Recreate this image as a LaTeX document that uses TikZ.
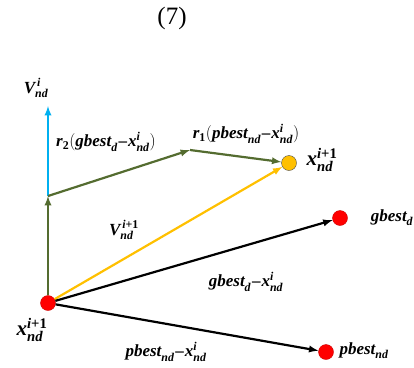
\documentclass[tikz,border=0pt]{standalone}
\usepackage{amsmath}
\usepackage{fontspec}
\setmainfont{Liberation Serif}
\usetikzlibrary{arrows}
\definecolor{vgreen}{RGB}{84,108,48}
\definecolor{vblue}{RGB}{0,176,240}
\definecolor{vyellow}{RGB}{255,192,0}
\newcommand{\bi}[1]{\text{\bfseries\itshape #1}}
\newcommand{\mi}{\mathbin{\!\text{\bfseries\textendash}\!}}
\begin{document}
\begin{tikzpicture}[x=1pt, y=-1pt, >=latex]
    \tikzstyle{dot} = [circle, draw=red!80!black, fill=red, inner sep=0pt, minimum size=15pt]
    \tikzstyle{pdot} = [circle, draw=black!70, fill=vyellow, inner sep=0pt, minimum size=15pt]
    \tikzstyle{lbl} = [inner sep=1pt, font=\fontsize{17}{19}\selectfont]
    \tikzstyle{xlbl} = [inner sep=1pt, font=\fontsize{21}{23}\selectfont]
    \tikzstyle{arrow} = [line width=2.2pt,->]
    \useasboundingbox (0,0) rectangle (414,367);

    % Title
    \node [font=\fontsize{25}{27}\selectfont] (eqno) at (172,18) {(7)};

    % Points
    \node [dot] (xold) at (48,303) {};
    \node [pdot] (xnew) at (289,163) {};
    \node [dot] (gbest) at (340,218) {};
    \node [dot] (pbest) at (326,352) {};
    \coordinate (c1) at (48,196);
    \coordinate (c2) at (190,150);
    \coordinate (vtop) at (48,106);

    % Labels
    \node [lbl] (lv) at (36,88) {$\bi{V}_{\bi{nd}}^{\,\bi{i}}$};
    \node [lbl] (lr2) at (106,142) {$\bi{r}_{\textbf{2}}(\bi{gbest}_{\bi{d}}\mi\bi{x}_{\bi{nd}}^{\bi{i}})$};
    \node [lbl] (lr1) at (246,134) {$\bi{r}_{\textbf{1}}(\bi{pbest}_{\bi{nd}}\mi\bi{x}_{\bi{nd}}^{\bi{i}})$};
    \node [xlbl] (lxnew) at (322,160) {$\bi{x}_{\bi{nd}}^{\bi{i}\textbf{+1}}$};
    \node [lbl] (lvnew) at (124,230) {$\bi{V}_{\bi{nd}}^{\,\bi{i}\textbf{+1}}$};
    \node [lbl] (lgbest) at (392,218) {$\bi{gbest}_{\bi{d}}$};
    \node [lbl] (ldg) at (246,282) {$\bi{gbest}_{\bi{d}}\mi\bi{x}_{\bi{nd}}^{\bi{i}}$};
    \node [xlbl] (lxold) at (32,330) {$\bi{x}_{\bi{nd}}^{\bi{i}\textbf{+1}}$};
    \node [lbl] (ldp) at (166,352) {$\bi{pbest}_{\bi{nd}}\mi\bi{x}_{\bi{nd}}^{\bi{i}}$};
    \node [lbl] (lpbest) at (364,351) {$\bi{pbest}_{\bi{nd}}$};

    % Velocity parts
    \draw [arrow, vblue] (c1) -- (vtop);
    \draw [arrow, vgreen] (xold) -- (c1);
    \draw [arrow, vgreen] (c1) -- (c2);
    \draw [arrow, vgreen] (c2) -- (xnew);
    \draw [arrow, vyellow] (xold) -- (xnew);

    % Differences
    \draw [arrow] (xold) -- (gbest);
    \draw [arrow] (xold) -- (pbest);
\end{tikzpicture}
\end{document}
